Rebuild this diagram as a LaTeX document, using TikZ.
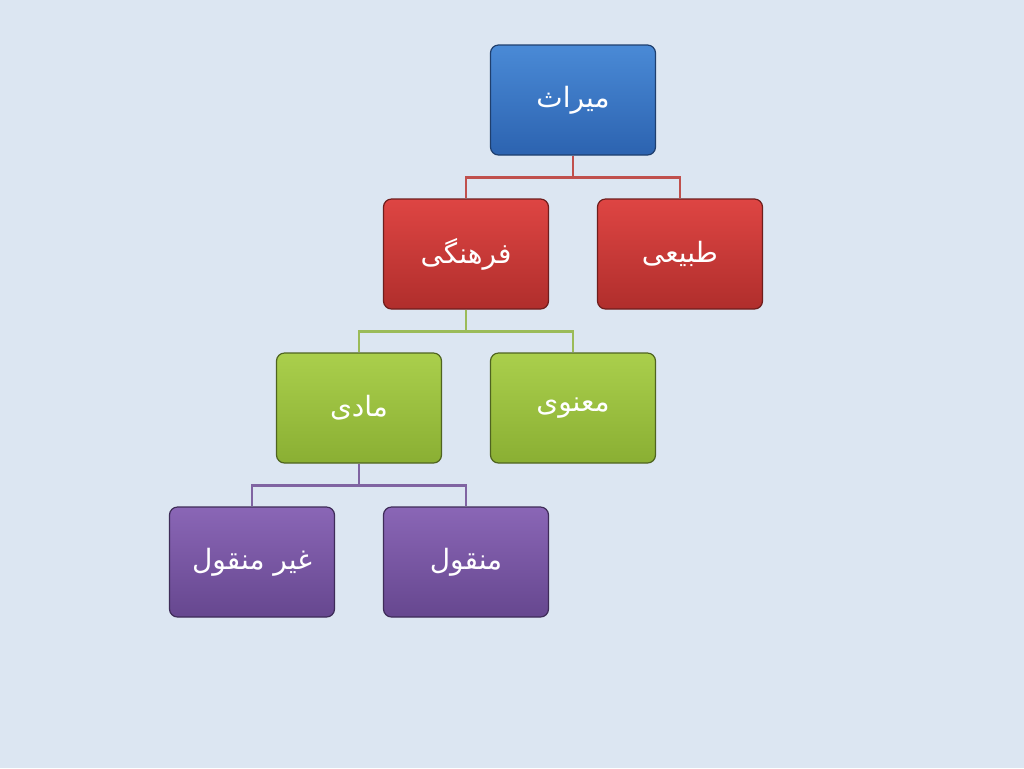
\documentclass[tikz,border=0pt]{standalone}
\usepackage{fontspec}
\newfontfamily\arabicfont[Script=Arabic]{DejaVu Sans}
\TeXXeTstate=1

\definecolor{bgpage}{HTML}{DCE6F2}
\definecolor{bluetop}{HTML}{4A8AD6}
\definecolor{bluebot}{HTML}{2C63B0}
\definecolor{blueedge}{HTML}{1F3F6E}
\definecolor{redtop}{HTML}{DE4543}
\definecolor{redbot}{HTML}{B02E2C}
\definecolor{rededge}{HTML}{6E1E1D}
\definecolor{greentop}{HTML}{AACF4C}
\definecolor{greenbot}{HTML}{8AAF33}
\definecolor{greenedge}{HTML}{4F6420}
\definecolor{purpletop}{HTML}{8A66B6}
\definecolor{purplebot}{HTML}{66478F}
\definecolor{purpleedge}{HTML}{3E2C58}
\definecolor{redlink}{HTML}{C0504D}
\definecolor{greenlink}{HTML}{9BBB59}
\definecolor{purplelink}{HTML}{8064A2}

\tikzset{
    box/.style={rectangle, rounded corners=4pt, minimum width=82.5pt, minimum height=55pt,
        draw, line width=0.6pt, text=white, font=\arabicfont\fontsize{14}{16}\selectfont},
    bluebox/.style={box, draw=blueedge, top color=bluetop, bottom color=bluebot},
    redbox/.style={box, draw=rededge, top color=redtop, bottom color=redbot},
    greenbox/.style={box, draw=greenedge, top color=greentop, bottom color=greenbot},
    purplebox/.style={box, draw=purpleedge, top color=purpletop, bottom color=purplebot},
    link/.style={line width=1.2pt}
}

\begin{document}
\begin{tikzpicture}[x=0.5pt, y=-0.5pt]
    \fill[bgpage] (0,0) rectangle (1024,768);
    \useasboundingbox (0,0) rectangle (1024,768);

    % boxes
    \node[bluebox] (miras) at (573,100) {\beginR میراث\endR};
    \node[redbox] (farhangi) at (466,254) {\beginR فرهنگی\endR};
    \node[redbox] (tabiei) at (680,254) {\beginR طبیعی\endR};
    \node[greenbox] (madi) at (359,408) {\beginR مادی\endR};
    \node[greenbox] (manavi) at (573,408) {\beginR معنوی\endR};
    \node[purplebox] (gheirmanqul) at (252,562) {\beginR غیر منقول\endR};
    \node[purplebox] (manqul) at (466,562) {\beginR منقول\endR};

    % connectors
    \draw[link, redlink] (miras.south) -- ++(0,22) -| (farhangi.north);
    \draw[link, redlink] (miras.south) -- ++(0,22) -| (tabiei.north);
    \draw[link, greenlink] (farhangi.south) -- ++(0,22) -| (madi.north);
    \draw[link, greenlink] (farhangi.south) -- ++(0,22) -| (manavi.north);
    \draw[link, purplelink] (madi.south) -- ++(0,22) -| (gheirmanqul.north);
    \draw[link, purplelink] (madi.south) -- ++(0,22) -| (manqul.north);
\end{tikzpicture}
\end{document}
